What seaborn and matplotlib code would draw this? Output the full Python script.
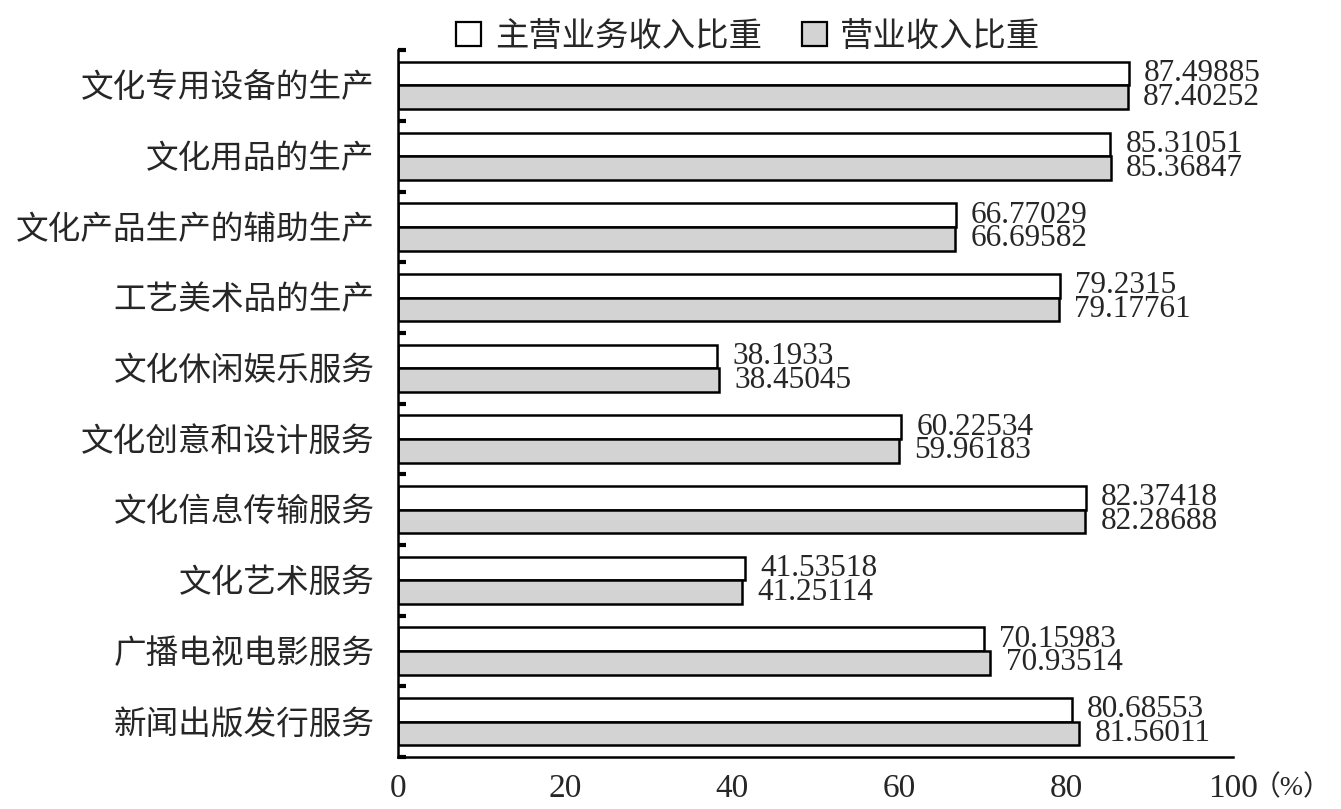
import matplotlib
matplotlib.use("Agg")
import matplotlib.pyplot as plt
from matplotlib.patches import Patch
from matplotlib.ticker import FixedLocator
import pandas as pd
import seaborn as sns

# data
categories = ['文化专用设备的生产', '文化用品的生产', '文化产品生产的辅助生产', '工艺美术品的生产',
              '文化休闲娱乐服务', '文化创意和设计服务', '文化信息传输服务', '文化艺术服务',
              '广播电视电影服务', '新闻出版发行服务']
main_share = [87.49885, 85.31051, 66.77029, 79.2315, 38.1933,
              60.22534, 82.37418, 41.53518, 70.15983, 80.68553]
total_share = [87.40252, 85.36847, 66.69582, 79.17761, 38.45045,
               59.96183, 82.28688, 41.25114, 70.93514, 81.56011]
series_names = ['主营业务收入比重', '营业收入比重']
colors = {'主营业务收入比重': 'white', '营业收入比重': '#d3d3d3'}

df = pd.DataFrame({
    'category': categories * 2,
    'series': [series_names[0]] * len(categories) + [series_names[1]] * len(categories),
    'value': main_share + total_share,
})

sns.set_theme(style='white')
plt.rcParams['font.family'] = ['Liberation Serif', 'Noto Sans CJK SC', 'DejaVu Sans']

fig = plt.figure(figsize=(13.41, 8.09), dpi=100)
ax = fig.add_axes([0.2968, 0.0643, 0.6227, 0.8737])

sns.barplot(data=df, y='category', x='value', hue='series', orient='h',
            order=categories, hue_order=series_names, palette=colors,
            edgecolor='black', linewidth=1.8, width=0.67, legend=False, ax=ax)

# value labels next to each bar
for cont, vals in zip(ax.containers, [main_share, total_share]):
    ax.bar_label(cont, labels=[str(v) for v in vals], padding=11, fontsize=22.5,
                 family='Liberation Serif')

ax.set_xlim(0, 100)
ax.set_ylim(len(categories) - 0.5, -0.5)
ax.set_xticks([0, 20, 40, 60, 80, 100])
ax.set_xticklabels(['0', '20', '40', '60', '80', '100'], fontsize=24)
ax.set_xlabel('')
ax.set_ylabel('')
ax.tick_params(axis='x', direction='in', length=8, width=1.5, pad=12, color='black')
ax.tick_params(axis='y', which='major', length=0, pad=17, labelsize=23.5)
ax.yaxis.set_minor_locator(FixedLocator([i - 0.5 for i in range(len(categories) + 1)]))
ax.tick_params(axis='y', which='minor', direction='in', length=6, width=3, color='black', left=True)

for s in ['top', 'right']:
    ax.spines[s].set_visible(False)
for s in ['left', 'bottom']:
    ax.spines[s].set_linewidth(1.8)
    ax.spines[s].set_color('black')

ax.annotate('（%）', xy=(100, 0), xycoords=('data', 'axes fraction'),
            xytext=(14, -13), textcoords='offset points', ha='left', va='top',
            fontsize=20, annotation_clip=False)

handles = [Patch(facecolor=colors[n], edgecolor='black', linewidth=1.6) for n in series_names]
fig.legend(handles, series_names, loc='upper center', bbox_to_anchor=(0.558, 1.01),
           ncol=2, frameon=False, fontsize=24, handlelength=0.75, handleheight=0.75,
           handletextpad=0.4, columnspacing=1.2)

fig.savefig('out.png', dpi=100)
